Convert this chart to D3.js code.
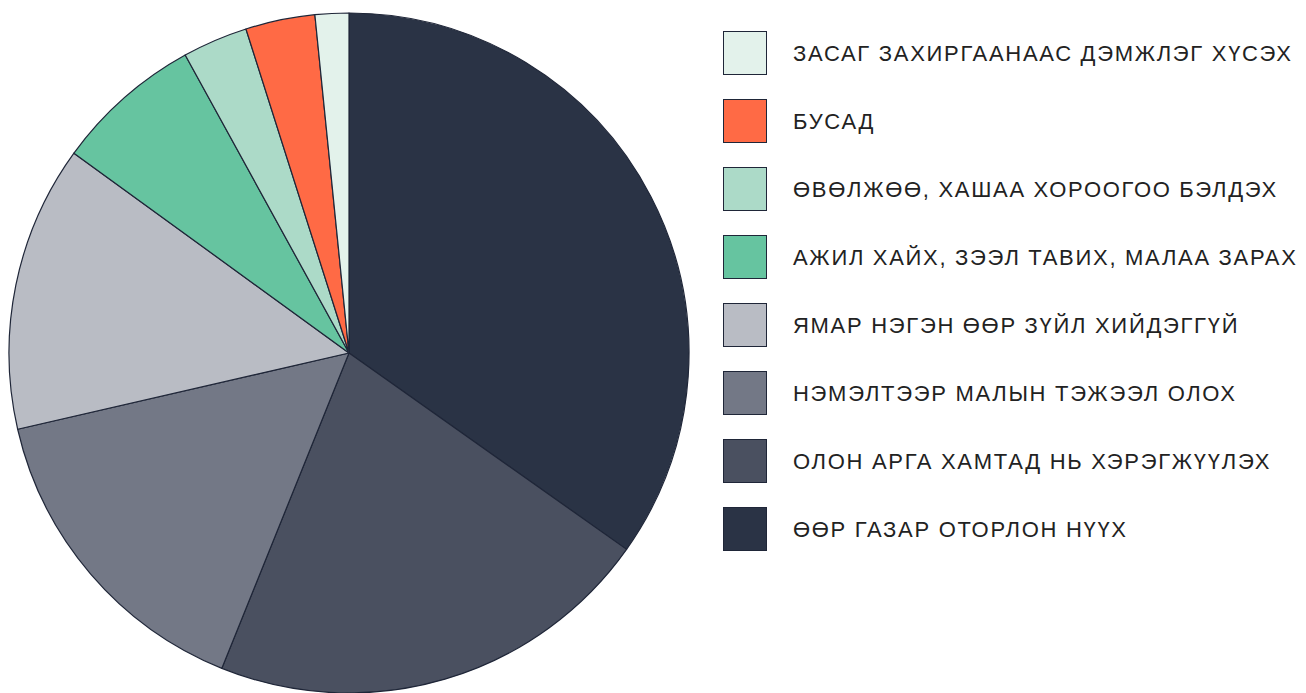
<!DOCTYPE html>
<html>
<head>
<meta charset="utf-8">
<script src="https://cdn.jsdelivr.net/npm/d3@7"></script>
<style>
  body { margin: 0; background: #fff; }
  svg text { font-family: "Liberation Sans", Arial, sans-serif; }
</style>
</head>
<body>
<svg id="chart" width="1306" height="693"></svg>
<script>
// pie order, clockwise from 12 o'clock
let categories = [
  "ӨӨР ГАЗАР ОТОРЛОН НҮҮХ",
  "ОЛОН АРГА ХАМТАД НЬ ХЭРЭГЖҮҮЛЭХ",
  "НЭМЭЛТЭЭР МАЛЫН ТЭЖЭЭЛ ОЛОХ",
  "ЯМАР НЭГЭН ӨӨР ЗҮЙЛ ХИЙДЭГГҮЙ",
  "АЖИЛ ХАЙХ, ЗЭЭЛ ТАВИХ, МАЛАА ЗАРАХ",
  "ӨВӨЛЖӨӨ, ХАШАА ХОРООГОО БЭЛДЭХ",
  "БУСАД",
  "ЗАСАГ ЗАХИРГААНААС ДЭМЖЛЭГ ХҮСЭХ"
];
let values = [34.8, 21.3, 15.3, 13.6, 7.0, 3.1, 3.3, 1.6];
let colors = ["#2a3345", "#4a5060", "#737886", "#b9bcc4", "#66c4a0", "#acdac8", "#ff6a45", "#e3f2eb"];

let svg = d3.select("svg#chart");

var color = d3.scaleOrdinal().domain(categories).range(colors);

var pie = d3.pie().sort(null).value(d => d.value);
var arc = d3.arc().innerRadius(0).outerRadius(340);

var data = categories.map((c, i) => ({ name: c, value: values[i] }));

var gPie = svg.append("g")
  .attr("transform", "translate(349,353)");

gPie.selectAll("path")
  .data(pie(data))
  .enter().append("path")
  .attr("d", arc)
  .attr("fill", d => color(d.data.name))
  .attr("stroke", "#1f2638")
  .attr("stroke-width", 1.2)
  .attr("stroke-linejoin", "round");

// legend lists categories in reverse
var legendItems = categories.slice().reverse();
var y = d3.scaleBand().domain(legendItems).range([31, 575]);

var gLegend = svg.append("g").attr("class", "legend");

var row = gLegend.selectAll("g")
  .data(legendItems)
  .enter().append("g")
  .attr("transform", d => `translate(723,${y(d)})`);

row.append("rect")
  .attr("x", 0.5)
  .attr("y", 0.5)
  .attr("width", 43)
  .attr("height", 43)
  .attr("fill", d => color(d))
  .attr("stroke", "#1f2638")
  .attr("stroke-width", 1);

row.append("text")
  .attr("x", 70)
  .attr("y", 22)
  .attr("dy", "0.36em")
  .attr("font-size", 22)
  .attr("letter-spacing", 1.7)
  .attr("fill", "#222")
  .text(d => d);
</script>
</body>
</html>
